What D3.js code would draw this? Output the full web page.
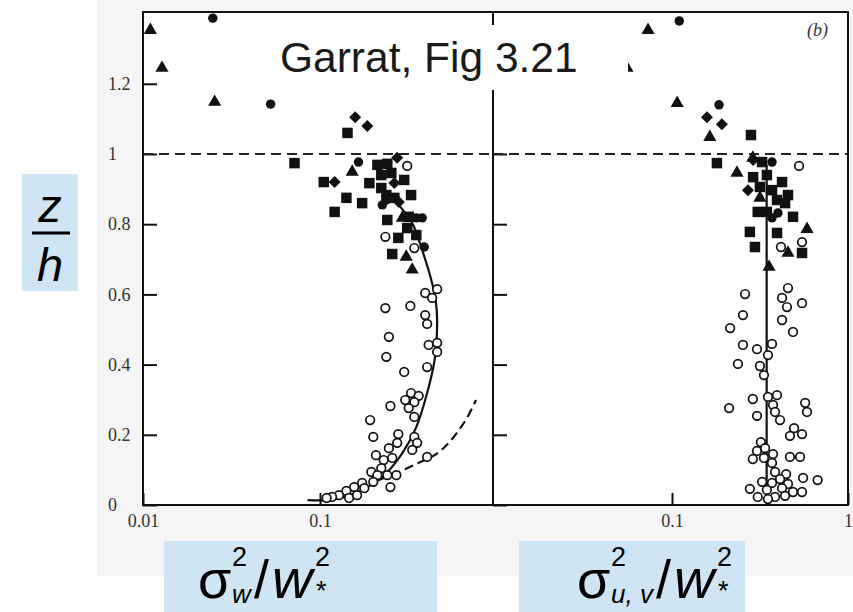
<!DOCTYPE html>
<html>
<head>
<meta charset="utf-8">
<script src="https://cdn.jsdelivr.net/npm/d3@7"></script>
<style>
  body { margin: 0; background: #fff; }
  svg { display: block; }
</style>
</head>
<body>
<div id="chart"></div>
<script>
// values, as [sigma^2 / w*^2, z/h]
const yTicks = [0, 0.2, 0.4, 0.6, 0.8, 1, 1.2];
const yTickLabels = ['0', '0.2', '0.4', '0.6', '0.8', '1', '1.2'];
const leftXTicks = [0.01, 0.1];
const leftXTickLabels = ['0.01', '0.1'];
const rightXTicks = [0.1, 1];
const rightXTickLabels = ['0.1', '1'];

// (a) sigma_w^2 / w*^2
const leftTriangles = [[0.0110, 1.353], [0.0128, 1.245], [0.0254, 1.148], [0.152, 0.949], [0.292, 0.818],
  [0.307, 0.707], [0.332, 0.670]];
const leftDots = [[0.0248, 1.387], [0.0526, 1.142], [0.165, 0.977], [0.225, 0.855], [0.237, 0.869],
  [0.350, 0.818], [0.378, 0.818], [0.388, 0.735]];
const leftSquares = [[0.143, 1.060], [0.0718, 0.974], [0.105, 0.920], [0.141, 0.875], [0.173, 0.860],
  [0.121, 0.835], [0.190, 0.917], [0.211, 0.969], [0.240, 0.972], [0.222, 0.940], [0.253, 0.946],
  [0.299, 0.926], [0.222, 0.903], [0.237, 0.883], [0.263, 0.875], [0.327, 0.883], [0.240, 0.812],
  [0.317, 0.821], [0.311, 0.789], [0.277, 0.761], [0.350, 0.769], [0.256, 0.715]];
const leftDiamonds = [[0.158, 1.105], [0.185, 1.080], [0.121, 0.920], [0.273, 0.989], [0.263, 0.917],
  [0.279, 0.863]];
const leftOpen = [[0.311, 0.966], [0.234, 0.764], [0.341, 0.732], [0.393, 0.604], [0.459, 0.615],
  [0.430, 0.590], [0.234, 0.561], [0.324, 0.567], [0.393, 0.541], [0.403, 0.516], [0.245, 0.479],
  [0.411, 0.456], [0.459, 0.462], [0.459, 0.436], [0.237, 0.422], [0.403, 0.393], [0.299, 0.379],
  [0.327, 0.319], [0.361, 0.311], [0.303, 0.299], [0.341, 0.293], [0.317, 0.276], [0.250, 0.282],
  [0.341, 0.251], [0.192, 0.242], [0.200, 0.194], [0.277, 0.202], [0.245, 0.162], [0.273, 0.177],
  [0.341, 0.194], [0.354, 0.177], [0.332, 0.157], [0.403, 0.137], [0.207, 0.142], [0.229, 0.128],
  [0.256, 0.134], [0.222, 0.105], [0.195, 0.094], [0.211, 0.085], [0.240, 0.085], [0.270, 0.085],
  [0.250, 0.051], [0.200, 0.066], [0.173, 0.063], [0.156, 0.051], [0.178, 0.048], [0.141, 0.040],
  [0.128, 0.028], [0.117, 0.023], [0.109, 0.020], [0.146, 0.020], [0.162, 0.028]];
const leftFit = [[0.085, 0.014], [0.109, 0.014], [0.138, 0.023], [0.173, 0.043], [0.225, 0.080],
  [0.292, 0.148], [0.350, 0.222], [0.403, 0.319], [0.444, 0.413], [0.459, 0.527], [0.450, 0.584],
  [0.430, 0.632], [0.378, 0.726], [0.332, 0.803], [0.279, 0.855], [0.253, 0.883]];
const leftSurface = [[0.215, 0.071], [0.279, 0.094], [0.361, 0.120], [0.444, 0.142], [0.520, 0.171],
  [0.592, 0.205], [0.677, 0.248], [0.761, 0.299]];

// (b) sigma_u,v^2 / w*^2
const rightTriangles = [[0.0731, 1.353], [0.0555, 1.245], [0.107, 1.145], [0.164, 1.048], [0.234, 0.946],
  [0.288, 0.989], [0.316, 0.875], [0.585, 0.786], [0.456, 0.718], [0.356, 0.678]];
const rightDots = [[0.110, 1.379], [0.185, 1.140], [0.370, 0.977], [0.400, 0.832], [0.370, 0.818]];
const rightSquares = [[0.281, 1.054], [0.180, 0.974], [0.325, 0.977], [0.289, 0.934], [0.346, 0.940],
  [0.422, 0.920], [0.316, 0.906], [0.370, 0.897], [0.456, 0.883], [0.395, 0.869], [0.439, 0.860],
  [0.307, 0.835], [0.346, 0.835], [0.487, 0.821], [0.277, 0.778], [0.395, 0.775], [0.296, 0.735],
  [0.548, 0.718]];
const rightDiamonds = [[0.158, 1.105], [0.192, 1.085], [0.289, 0.983], [0.270, 0.897]];
const rightOpen = [[0.527, 0.966], [0.416, 0.735], [0.548, 0.749], [0.260, 0.601], [0.456, 0.618],
  [0.422, 0.590], [0.450, 0.564], [0.548, 0.575], [0.253, 0.541], [0.422, 0.527], [0.214, 0.504],
  [0.487, 0.493], [0.253, 0.456], [0.304, 0.444], [0.370, 0.459], [0.351, 0.427], [0.237, 0.402],
  [0.316, 0.396], [0.333, 0.370], [0.288, 0.302], [0.351, 0.308], [0.395, 0.313], [0.375, 0.285],
  [0.211, 0.276], [0.304, 0.254], [0.385, 0.265], [0.411, 0.242], [0.571, 0.291], [0.585, 0.265],
  [0.494, 0.219], [0.468, 0.197], [0.548, 0.202], [0.320, 0.179], [0.304, 0.154], [0.288, 0.131],
  [0.338, 0.162], [0.375, 0.145], [0.333, 0.134], [0.468, 0.137], [0.534, 0.137], [0.370, 0.120],
  [0.385, 0.094], [0.445, 0.088], [0.411, 0.074], [0.556, 0.077], [0.672, 0.071], [0.325, 0.066],
  [0.370, 0.063], [0.456, 0.060], [0.277, 0.046], [0.346, 0.043], [0.422, 0.048], [0.487, 0.037],
  [0.548, 0.037], [0.307, 0.023], [0.385, 0.023], [0.439, 0.026], [0.351, 0.017]];
const rightFit = [[0.345, 0], [0.345, 0.97]];

const boundaryLayer = 1; // z/h = 1, dashed

const W = 853, H = 612;
const svg = d3.select('#chart').append('svg')
    .attr('width', W)
    .attr('height', H)
    .style('font-family', '"Liberation Sans", Arial, sans-serif');

// scanned page tint
svg.append('rect').attr('x', 97).attr('y', 0).attr('width', W - 97).attr('height', 576).attr('fill', '#f5f5f5');

const plotTop = 12, plotBottom = 505;
const y = d3.scaleLinear().domain([0, 1.4045]).range([plotBottom, plotTop]);

const panels = [
    {
        x0: 143, x1: 493,
        x: d3.scaleLog().domain([0.01, 1]).range([143, 497]),
        ticks: leftXTicks, tickLabels: leftXTickLabels, showY: true,
        tri: leftTriangles, dot: leftDots, sq: leftSquares, dia: leftDiamonds, open: leftOpen,
        lines: [{ d: leftFit, dash: null }, { d: leftSurface, dash: '9,5' }]
    },
    {
        x0: 493, x1: 848,
        x: d3.scaleLog().domain([0.01, 1]).range([496, 848]),
        ticks: rightXTicks, tickLabels: rightXTickLabels, showY: false,
        tri: rightTriangles, dot: rightDots, sq: rightSquares, dia: rightDiamonds, open: rightOpen,
        lines: [{ d: rightFit, dash: null }]
    }
];

panels.forEach((p, i) => {
    const g = svg.append('g');
    const clipId = 'clip' + i;
    svg.append('clipPath').attr('id', clipId)
        .append('rect').attr('x', p.x0).attr('y', plotTop).attr('width', p.x1 - p.x0).attr('height', plotBottom - plotTop);

    g.append('rect')
        .attr('x', p.x0).attr('y', plotTop)
        .attr('width', p.x1 - p.x0).attr('height', plotBottom - plotTop)
        .attr('fill', '#fff');

    // y axis, ticks pointing inward
    const yAxis = d3.axisLeft(y)
        .tickValues(yTicks)
        .tickSizeInner(-14)
        .tickSizeOuter(0)
        .tickPadding(35)
        .tickFormat((d, k) => p.showY ? yTickLabels[k] : '');
    const ya = g.append('g').attr('transform', `translate(${p.x0},0)`).call(yAxis);
    ya.select('.domain').remove();
    ya.selectAll('line').attr('stroke', '#111').attr('stroke-width', 2);
    ya.selectAll('text')
        .attr('text-anchor', 'start')
        .style('font-family', '"Liberation Serif", "Times New Roman", serif')
        .style('font-size', '18px')
        .attr('fill', '#333');

    // x axis
    const xAxis = d3.axisBottom(p.x)
        .tickValues(p.ticks)
        .tickSizeInner(-12)
        .tickSizeOuter(0)
        .tickPadding(9)
        .tickFormat((d, k) => p.tickLabels[k]);
    const xa = g.append('g').attr('transform', `translate(0,${plotBottom})`).call(xAxis);
    xa.select('.domain').remove();
    xa.selectAll('line').attr('stroke', '#111').attr('stroke-width', 2);
    xa.selectAll('text')
        .style('font-family', '"Liberation Serif", "Times New Roman", serif')
        .style('font-size', '18px')
        .attr('fill', '#333');

    const inner = g.append('g').attr('clip-path', `url(#${clipId})`);

    // z/h = 1 dashed line
    inner.append('line')
        .attr('x1', p.x0).attr('x2', p.x1)
        .attr('y1', y(boundaryLayer)).attr('y2', y(boundaryLayer))
        .attr('stroke', '#222').attr('stroke-width', 2).attr('stroke-dasharray', '10,6');

    const line = d3.line()
        .x(d => p.x(d[0]))
        .y(d => y(d[1]))
        .curve(d3.curveCatmullRom);
    p.lines.forEach(l => {
        inner.append('path')
            .attr('d', line(l.d))
            .attr('fill', 'none')
            .attr('stroke', '#111')
            .attr('stroke-width', 2.2)
            .attr('stroke-dasharray', l.dash);
    });

    const pos = d => `translate(${p.x(d[0])},${y(d[1])})`;

    inner.selectAll('.open').data(p.open).join('circle')
        .attr('cx', d => p.x(d[0])).attr('cy', d => y(d[1]))
        .attr('r', 4.3)
        .attr('fill', '#fff')
        .attr('stroke', '#111')
        .attr('stroke-width', 1.7);

    inner.selectAll('.sq').data(p.sq).join('path')
        .attr('transform', pos)
        .attr('d', d3.symbol(d3.symbolSquare, 110)())
        .attr('fill', '#111');

    inner.selectAll('.dia').data(p.dia).join('path')
        .attr('transform', d => pos(d) + ' rotate(45)')
        .attr('d', d3.symbol(d3.symbolSquare, 72)())
        .attr('fill', '#111');

    inner.selectAll('.dot').data(p.dot).join('path')
        .attr('transform', pos)
        .attr('d', d3.symbol(d3.symbolCircle, 70)())
        .attr('fill', '#111');

    inner.selectAll('.tri').data(p.tri).join('path')
        .attr('transform', pos)
        .attr('d', d3.symbol(d3.symbolTriangle, 75)())
        .attr('fill', '#111');

    // frame
    g.append('rect')
        .attr('x', p.x0).attr('y', plotTop)
        .attr('width', p.x1 - p.x0).attr('height', plotBottom - plotTop)
        .attr('fill', 'none')
        .attr('stroke', '#111')
        .attr('stroke-width', 2);
});

// panel tag
svg.append('text')
    .attr('x', 807).attr('y', 36)
    .style('font-family', '"Liberation Serif", serif')
    .style('font-style', 'italic')
    .style('font-size', '18px')
    .attr('fill', '#333')
    .text('(b)');

// title box
svg.append('rect').attr('x', 265).attr('y', 25).attr('width', 363).attr('height', 65).attr('fill', '#fff');
svg.append('text')
    .attr('x', 280).attr('y', 72)
    .style('font-size', '42.5px')
    .attr('fill', '#1a1a1a')
    .text('Garrat, Fig 3.21');

// axis label boxes
const labelFill = '#cfe5f3';
svg.append('rect').attr('x', 22).attr('y', 174).attr('width', 56).attr('height', 117).attr('fill', labelFill);
svg.append('text').attr('x', 50).attr('y', 222).attr('text-anchor', 'middle')
    .style('font-size', '47px').style('font-style', 'italic').text('z');
svg.append('line').attr('x1', 32).attr('x2', 70).attr('y1', 233).attr('y2', 233)
    .attr('stroke', '#000').attr('stroke-width', 3);
svg.append('text').attr('x', 50).attr('y', 281).attr('text-anchor', 'middle')
    .style('font-size', '47px').style('font-style', 'italic').text('h');

function sigmaLabel(x0, sub, sx) {
    svg.append('text').attr('x', x0).attr('y', 598).style('font-size', '54px').text('σ');
    svg.append('text').attr('x', x0 + 34).attr('y', 566).style('font-size', '27px').text('2');
    svg.append('text').attr('x', x0 + 34).attr('y', 603).style('font-size', '26px')
        .style('font-style', 'italic').text(sub);
    svg.append('text').attr('x', sx).attr('y', 598).style('font-size', '54px').text('/');
    svg.append('text').attr('x', sx + 18).attr('y', 598).style('font-size', '56px')
        .style('font-style', 'italic').text('w');
    svg.append('text').attr('x', sx + 61).attr('y', 566).style('font-size', '27px').text('2');
    svg.append('text').attr('x', sx + 62).attr('y', 600).style('font-size', '27px').text('*');
}
svg.append('rect').attr('x', 164).attr('y', 541).attr('width', 273).attr('height', 71).attr('fill', labelFill);
sigmaLabel(198, 'w', 254);
svg.append('rect').attr('x', 519).attr('y', 541).attr('width', 226).attr('height', 71).attr('fill', labelFill);
sigmaLabel(577, 'u, v', 656);
</script>
</body>
</html>
